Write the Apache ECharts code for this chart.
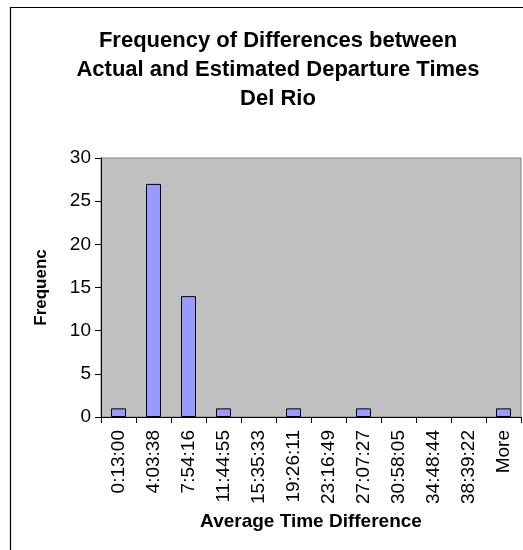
<!DOCTYPE html>
<html><head><meta charset="utf-8">
<script src="https://cdn.jsdelivr.net/npm/echarts@6/dist/echarts.min.js"></script>
<style>html,body{margin:0;padding:0;background:#fff}#c{width:523px;height:550px}</style>
</head><body><div id="c"></div>
<script>
const categories = ['0:13:00','4:03:38','7:54:16','11:44:55','15:35:33','19:26:11','23:16:49','27:07:27','30:58:05','34:48:44','38:39:22','More'];
const frequency = [1,27,14,1,0,1,0,1,0,0,0,1];
const yTicks = {min:0, max:30, interval:5};
const titleText = 'Frequency of Differences between\nActual and Estimated Departure Times\nDel Rio';
const xName = 'Average Time Difference';
const yName = 'Frequency';

const chart = echarts.init(document.getElementById('c'), null, {renderer:'canvas'});
const font = 'Liberation Sans, Arial, sans-serif';
chart.setOption({
  animation:false,
  backgroundColor:'#fff',
  graphic:[{type:'rect', shape:{x:10.5,y:7.5,width:700,height:700}, style:{fill:'none',stroke:'#000',lineWidth:1.2}, silent:true, z:-10}],
  title:{text:titleText, left:273, top:21, textAlign:'center',
    textStyle:{fontFamily:font, fontSize:22, fontWeight:'bold', lineHeight:29, color:'#000'}},
  grid:{left:101, top:158, right:2, bottom:133, show:true, backgroundColor:'#C0C0C0', borderColor:'#808080', borderWidth:1},
  xAxis:{type:'category', data:categories, boundaryGap:true,
    name:xName, nameLocation:'middle', nameGap:95,
    nameTextStyle:{fontFamily:font, fontSize:19, fontWeight:'bold', color:'#000'},
    axisLine:{lineStyle:{color:'#000', width:1}},
    axisTick:{show:true, length:6, lineStyle:{color:'#000'}},
    axisLabel:{rotate:90, interval:0, margin:13, fontFamily:font, fontSize:19, color:'#000'},
    splitLine:{show:false}},
  yAxis:{type:'value', min:yTicks.min, max:yTicks.max, interval:yTicks.interval,
    name:yName, nameLocation:'middle', nameGap:51, nameRotate:90,
    nameTruncate:{maxWidth:82, ellipsis:''},
    nameTextStyle:{fontFamily:font, fontSize:17, fontWeight:'bold', color:'#000'},
    axisLine:{show:true, lineStyle:{color:'#000', width:1}},
    axisTick:{show:true, length:6, lineStyle:{color:'#000'}},
    axisLabel:{margin:10, fontFamily:font, fontSize:19, color:'#000'},
    splitLine:{show:false}},
  series:[{type:'bar', data:frequency.map(v => v === 0 ? '-' : v), barWidth:15,
    itemStyle:{color:'#9999FF', borderColor:'#000', borderWidth:1}}]
});
</script></body></html>
